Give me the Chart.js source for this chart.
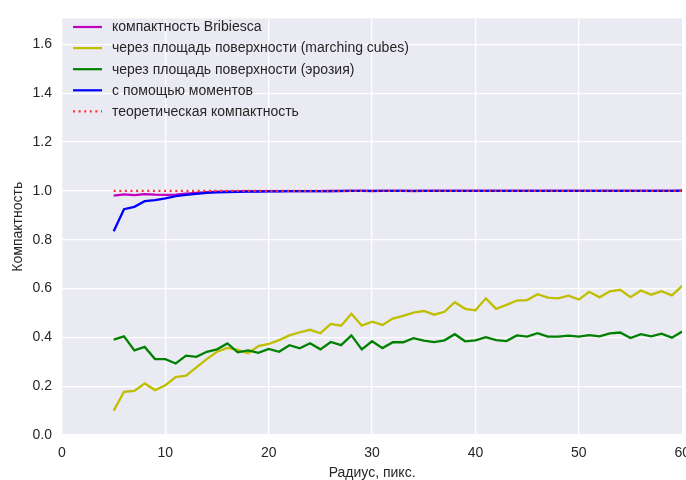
<!DOCTYPE html>
<html>
<head>
<meta charset="utf-8">
<script src="https://cdn.jsdelivr.net/npm/chart.js@4/dist/chart.umd.min.js"></script>
<style>
  html, body { margin: 0; padding: 0; background: #ffffff; overflow: hidden; }
  #wrap { width: 686px; height: 480px; overflow: hidden; position: relative; }
  canvas { display: block; }
</style>
</head>
<body>
<div id="wrap"><canvas id="c" width="700" height="480"></canvas></div>
<script>
// ---- data ----
const radius = [5,6,7,8,9,10,11,12,13,14,15,16,17,18,19,20,21,22,23,24,25,26,27,28,29,30,31,32,33,34,35,36,37,38,39,40,41,42,43,44,45,46,47,48,49,50,51,52,53,54,55,56,57,58,59,60];

const bribiesca = [0.981,0.986,0.983,0.987,0.985,0.984,0.985,0.989,0.992,0.995,0.997,0.998,0.998,0.999,0.999,0.999,0.999,0.999,0.999,0.999,0.999,1.0,0.999,1.0,1.0,0.999,1.0,1.0,1.0,0.999,1.0,1.0,1.0,1.0,1.0,1.0,1.0,1.0,1.0,1.0,1.0,1.0,1.0,1.0,1.0,1.0,1.0,1.0,1.0,1.0,1.0,1.0,1.0,1.0,1.0,1.0];

const marchingCubes = [0.100,0.177,0.181,0.211,0.184,0.204,0.237,0.243,0.277,0.311,
  0.341,0.357,0.349,0.335,0.364,0.373,0.389,0.408,0.421,0.431,
  0.417,0.455,0.448,0.497,0.448,0.464,0.451,0.477,0.488,0.501,
  0.508,0.493,0.505,0.544,0.517,0.511,0.560,0.517,0.533,0.551,
  0.553,0.577,0.563,0.560,0.571,0.555,0.587,0.564,0.589,0.595,
  0.565,0.592,0.575,0.589,0.572,0.611];

const erosion = [0.391,0.404,0.347,0.361,0.311,0.311,0.293,0.325,0.320,0.341,
  0.351,0.375,0.339,0.347,0.337,0.353,0.341,0.368,0.355,0.376,
  0.351,0.381,0.368,0.408,0.351,0.384,0.356,0.380,0.380,0.397,
  0.387,0.381,0.388,0.413,0.384,0.388,0.401,0.389,0.385,0.408,
  0.403,0.417,0.403,0.403,0.407,0.403,0.409,0.404,0.416,0.420,
  0.397,0.413,0.404,0.415,0.399,0.424];

const moments = [0.835,0.925,0.935,0.958,0.962,0.970,0.979,0.984,0.988,0.992,
  0.994,0.995,0.996,0.997,0.997,0.998,0.998,0.999,0.999,0.999,
  0.999,0.999,1.0,1.0,1.0,1.0,1.0,1.0,1.0,1.0,
  1.0,1.0,1.0,1.0,1.0,1.0,1.0,1.0,1.0,1.0,
  1.0,1.0,1.0,1.0,1.0,1.0,1.0,1.0,1.0,1.0,
  1.0,1.0,1.0,1.0,1.0,1.001];

const theoretical = [1.0,1.0,1.0,1.0,1.0,1.0,1.0,1.0,1.0,1.0,1.0,1.0,1.0,1.0,1.0,1.0,1.0,1.0,1.0,1.0,1.0,1.0,1.0,1.0,1.0,1.0,1.0,1.0,1.0,1.0,1.0,1.0,1.0,1.0,1.0,1.0,1.0,1.0,1.0,1.0,1.0,1.0,1.0,1.0,1.0,1.0,1.0,1.0,1.0,1.0,1.0,1.0,1.0,1.0,1.0,1.0];

const seriesLabels = [
  'компактность Bribiesca',
  'через площадь поверхности (marching cubes)',
  'через площадь поверхности (эрозия)',
  'с помощью моментов',
  'теоретическая компактность'
];
const xTicks = [0,10,20,30,40,50,60];
const yTicks = [0.0,0.2,0.4,0.6,0.8,1.0,1.2,1.4,1.6];
const xTitle = 'Радиус, пикс.';
const yTitle = 'Компактность';

// ---- chart ----
const FONT = "'Liberation Sans', Arial, sans-serif";
const TEXT = '#262626';
const FS = 14;
Chart.defaults.font.family = FONT;
Chart.defaults.font.size = FS;
Chart.defaults.color = TEXT;

function pts(ys) { return radius.map((x, i) => ({x: x, y: ys[i]})); }

const colors = ['#BF00BF', '#BFBF00', '#008000', '#0000FF', '#FF3030'];
const seriesData = [bribiesca, marchingCubes, erosion, moments, theoretical];
const dashes = [[], [], [], [], [2, 3.6]];

const datasets = seriesData.map((ys, i) => ({
  label: seriesLabels[i],
  data: pts(ys),
  borderColor: colors[i],
  backgroundColor: colors[i],
  borderWidth: 2.3,
  borderDash: dashes[i],
  pointRadius: 0,
  tension: 0,
  fill: false,
  order: 5 - i
}));

const bgPlugin = {
  id: 'plotBg',
  beforeDraw(chart) {
    const {ctx, chartArea: a} = chart;
    ctx.save();
    ctx.fillStyle = '#EAEAF2';
    ctx.fillRect(a.left, a.top, a.right - a.left, a.bottom - a.top);
    ctx.restore();
  }
};

const legendPlugin = {
  id: 'innerLegend',
  afterDraw(chart) {
    const ctx = chart.ctx;
    ctx.save();
    ctx.font = FS + 'px ' + FONT;
    ctx.textBaseline = 'middle';
    ctx.textAlign = 'left';
    chart.data.datasets.forEach((ds, i) => {
      const y = 27 + i * 21.1;
      ctx.strokeStyle = ds.borderColor;
      ctx.lineWidth = 2.2;
      ctx.lineCap = 'butt';
      ctx.setLineDash(ds.borderDash || []);
      ctx.beginPath();
      ctx.moveTo(73, y);
      ctx.lineTo(102, y);
      ctx.stroke();
      ctx.setLineDash([]);
      ctx.fillStyle = TEXT;
      ctx.fillText(ds.label, 112, y + 0.5);
    });
    ctx.restore();
  }
};

new Chart(document.getElementById('c'), {
  type: 'line',
  data: { datasets: datasets },
  plugins: [bgPlugin, legendPlugin],
  options: {
    responsive: false,
    animation: false,
    devicePixelRatio: 1,
    layout: { padding: { left: 0, top: 8, right: 17, bottom: 0 } },
    plugins: { legend: { display: false }, tooltip: { enabled: false } },
    scales: {
      x: {
        type: 'linear',
        min: 0, max: 60,
        afterBuildTicks(scale) { scale.ticks = xTicks.map(v => ({value: v})); },
        afterFit(scale) { scale.height = 45; },
        ticks: { padding: 10, color: TEXT, font: { size: FS }, maxRotation: 0 },
        grid: { color: '#ffffff', lineWidth: 1.3, drawTicks: false },
        border: { display: false },
        title: { display: true, text: xTitle, color: TEXT, font: { size: FS }, padding: { top: 0, bottom: -2 } }
      },
      y: {
        type: 'linear',
        min: 0, max: 1.707,
        afterBuildTicks(scale) { scale.ticks = yTicks.map(v => ({value: v})); },
        afterFit(scale) { scale.width = 62; },
        ticks: { padding: 10, color: TEXT, font: { size: FS }, callback: v => Number(v).toFixed(1) },
        grid: { color: '#ffffff', lineWidth: 1.3, drawTicks: false },
        border: { display: false },
        title: { display: true, text: yTitle, color: TEXT, font: { size: FS }, padding: { top: 10, bottom: 0 } }
      }
    }
  }
});
</script>
</body>
</html>
